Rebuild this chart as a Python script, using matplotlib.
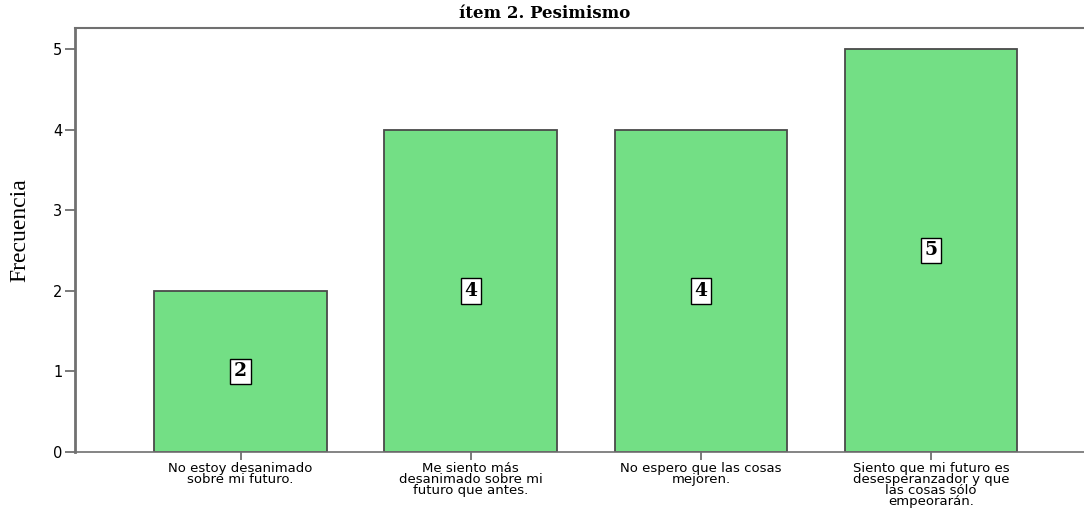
import matplotlib
matplotlib.use("Agg")
import matplotlib.pyplot as plt

# data
categories = [
    "No estoy desanimado\nsobre mi futuro.",
    "Me siento más\ndesanimado sobre mi\nfuturo que antes.",
    "No espero que las cosas\nmejoren.",
    "Siento que mi futuro es\ndesesperanzador y que\nlas cosas sólo\nempeorarán.",
]
counts = [2, 4, 4, 5]
yticks = [0, 1, 2, 3, 4, 5]

title = "ítem 2. Pesimismo"
y_label = "Frecuencia"

BAR_COLOR = "#73DF85"
EDGE_COLOR = "#4a4a4a"
AXIS_COLOR = "#707070"


def main():
    fig = plt.figure(figsize=(10.84, 5.12), dpi=100)
    ax = fig.add_axes([75 / 1084, 1 - 452 / 512, 1 - 75 / 1084, (452 - 28) / 512])

    xs = list(range(len(categories)))
    ax.bar(xs, counts, width=0.75, color=BAR_COLOR, edgecolor=EDGE_COLOR, linewidth=1.3)

    for x, c in zip(xs, counts):
        ax.text(x, c / 2, str(c), ha="center", va="center", fontsize=13.5,
                fontweight="bold", family="DejaVu Serif",
                bbox=dict(boxstyle="square,pad=0.2", facecolor="white",
                          edgecolor="black", linewidth=1.0))

    ax.set_xlim(-0.72, 3.665)
    ax.set_ylim(0, 5.26)
    ax.set_yticks(yticks)
    ax.set_xticks(xs)
    ax.set_xticklabels(categories, family="DejaVu Sans", fontsize=9.5,
                       linespacing=0.82)
    for lbl in ax.get_yticklabels():
        lbl.set_family("DejaVu Sans")
        lbl.set_fontsize(10.5)

    ax.spines["right"].set_visible(False)
    for side in ["left", "top", "bottom"]:
        ax.spines[side].set_color(AXIS_COLOR)
    ax.spines["left"].set_linewidth(2)
    ax.spines["top"].set_linewidth(1.5)
    ax.spines["bottom"].set_linewidth(1.2)
    ax.tick_params(axis="y", length=7, width=1.3, color=AXIS_COLOR, pad=2)
    ax.tick_params(axis="x", length=6, width=1.3, color=AXIS_COLOR, pad=1)

    fig.text(545 / 1084, 1 - 14 / 512, title, ha="center", va="center",
             fontsize=12, fontweight="bold", family="DejaVu Serif")
    fig.text(20 / 1084, 1 - 230 / 512, y_label, ha="center", va="center",
             rotation=90, fontsize=17, family="Liberation Serif")

    fig.savefig("out.png", dpi=100)


if __name__ == "__main__":
    main()
